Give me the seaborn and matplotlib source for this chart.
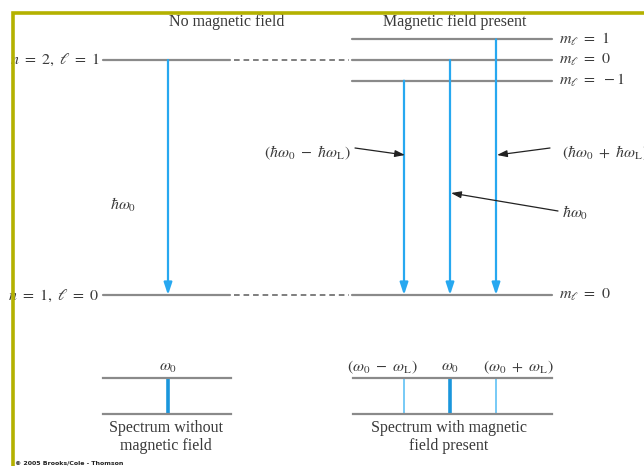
import numpy as np
import pandas as pd
import matplotlib
matplotlib.use("Agg")
import matplotlib.pyplot as plt
import seaborn as sns
from matplotlib.patches import Rectangle

# ---------------- data ----------------
panel_titles = ["No magnetic field", "Magnetic field present"]
lower_level_label = r"$n\ =\ 1,\ \ell\ =\ 0$"
upper_level_label = r"$n\ =\ 2,\ \ell\ =\ 1$"
E_lower = 0.0
E_upper = 1.0
zeeman_step = 0.088          # energy shift per unit m_l (relative)
upper_ml = [1, 0, -1]
lower_ml = [0]
ml_labels_upper = [r"$m_\ell\ =\ 1$", r"$m_\ell\ =\ 0$", r"$m_\ell\ =\ -1$"]
ml_label_lower = r"$m_\ell\ =\ 0$"
transition_ml = [-1, 0, 1]   # upper m_l of each transition (to m_l = 0)
transition_labels = [r"$(\hbar\omega_0\ -\ \hbar\omega_{\rm L})$",
                     r"$\hbar\omega_0$",
                     r"$(\hbar\omega_0\ +\ \hbar\omega_{\rm L})$"]
single_label = r"$\hbar\omega_0$"
spectrum_offsets = [-1, 0, 1]         # in units of omega_L
spectrum_strength = [1, 2, 1]
spectrum_labels = [r"$(\omega_0\ -\ \omega_{\rm L})$", r"$\omega_0$",
                   r"$(\omega_0\ +\ \omega_{\rm L})$"]
spectrum_captions = ["Spectrum without\nmagnetic field",
                     "Spectrum with magnetic\nfield present"]
credit = "© 2005 Brooks/Cole - Thomson"

# ---------------- style ----------------
sns.set_theme(style="white")
plt.rcParams["font.family"] = ["Liberation Serif", "DejaVu Serif"]
plt.rcParams["mathtext.fontset"] = "stix"

W, H = 644, 466
GRAY = "#8a8a8a"
BLUE = "#27a8f0"
BLUE_D = "#1a96dc"
BLUE_L = "#6cc6f6"
TXT = "#3a3a3a"

fig = plt.figure(figsize=(W / 100, H / 100), dpi=100)
fig.patch.set_facecolor("white")

# main axes: x in layout pixels, y in energy units
Y_G, S = 295.0, 235.0
ax = fig.add_axes([0, 0, 1, 1])
ax.set_xlim(0, W)
ax.set_ylim((Y_G - H) / S, Y_G / S)
ax.axis("off")

def ff(px, py):
    return px / W, 1 - py / H

XL0, XL1, XLA = 103, 230, 168     # left diagram
XR0, XR1, XRC, DX = 352, 552, 450, 46  # right diagram

# levels via seaborn
rows = []
seg = 0
for E in [E_upper, E_lower]:
    rows += [dict(x=XL0, E=E, seg=seg), dict(x=XL1, E=E, seg=seg)]
    seg += 1
for ml in upper_ml:
    E = E_upper + ml * zeeman_step
    rows += [dict(x=XR0, E=E, seg=seg), dict(x=XR1, E=E, seg=seg)]
    seg += 1
for ml in lower_ml:
    E = E_lower + ml * zeeman_step
    rows += [dict(x=XR0, E=E, seg=seg), dict(x=XR1, E=E, seg=seg)]
    seg += 1
levels = pd.DataFrame(rows)
sns.lineplot(data=levels, x="x", y="E", units="seg", estimator=None,
             color=GRAY, lw=1.6, sort=False, ax=ax, legend=False)
ax.set_xlabel(""); ax.set_ylabel("")
ax.axis("off")

# dashed connectors
for E in [E_upper, E_lower]:
    ax.plot([234, XR0 - 3], [E, E], color="#7e7e7e", lw=1.4, dashes=(2.9, 2.0))

arrow_kw = dict(arrowstyle="-|>,head_length=0.6,head_width=0.2",
                color=BLUE, lw=1.6, shrinkA=0, shrinkB=0)
# single transition
ax.annotate("", xy=(XLA, E_lower), xytext=(XLA, E_upper), arrowprops=arrow_kw)
# Zeeman transitions
for ml in transition_ml:
    x = XRC + DX * ml
    ax.annotate("", xy=(x, E_lower), xytext=(x, E_upper + ml * zeeman_step),
                arrowprops=arrow_kw)

# level labels
fs = 11.5
fig.text(*ff(100, 60), upper_level_label, ha="right", va="center", fontsize=fs, color=TXT)
fig.text(*ff(100, 296), lower_level_label, ha="right", va="center", fontsize=fs, color=TXT)
for ml, lab in zip(upper_ml, ml_labels_upper):
    E = E_upper + ml * zeeman_step
    ax.text(559, E, lab, ha="left", va="center", fontsize=fs, color=TXT)
ax.text(559, E_lower, ml_label_lower, ha="left", va="center", fontsize=fs, color=TXT)

# titles
fig.text(*ff(227, 22), panel_titles[0], ha="center", va="center", fontsize=fs, color=TXT)
fig.text(*ff(455, 22), panel_titles[1], ha="center", va="center", fontsize=fs, color=TXT)

# transition labels + pointers
fig.text(*ff(123, 205), single_label, ha="center", va="center", fontsize=fs, color=TXT)
ptr = dict(arrowstyle="-|>,head_length=0.5,head_width=0.17", color="#222222",
           lw=0.9, shrinkA=0, shrinkB=0)
fig.text(*ff(351, 153), transition_labels[0], ha="right", va="center", fontsize=fs, color=TXT)
ax.annotate("", xy=(XRC - DX + 1, (Y_G - 155) / S), xytext=(355, H - 148),
            textcoords="figure pixels", arrowprops=ptr)
fig.text(*ff(562, 153), transition_labels[2], ha="left", va="center", fontsize=fs, color=TXT)
ax.annotate("", xy=(XRC + DX + 1, (Y_G - 155) / S), xytext=(550, H - 148),
            textcoords="figure pixels", arrowprops=ptr)
fig.text(*ff(562, 213), transition_labels[1], ha="left", va="center", fontsize=fs, color=TXT)
ax.annotate("", xy=(XRC + 1, (Y_G - 193) / S), xytext=(558, H - 211),
            textcoords="figure pixels", arrowprops=ptr)

# spectra
SY0, SY1 = 378, 414
def spec_axes(x0, x1, xc):
    a = fig.add_axes([x0 / W, 1 - SY1 / H, (x1 - x0) / W, (SY1 - SY0) / H])
    a.set_xlim((x0 - xc) / DX, (x1 - xc) / DX)
    a.set_ylim(0, 1)
    a.patch.set_alpha(0)
    for s in ["left", "right"]:
        a.spines[s].set_visible(False)
    for s in ["top", "bottom"]:
        a.spines[s].set_color(GRAY)
        a.spines[s].set_linewidth(1.6)
    a.set_xticks([]); a.set_yticks([])
    return a

axL = spec_axes(XL0, XL1 + 1, XLA)
axL.vlines([0], 0, 1, color=BLUE_D, lw=2.6)
axR = spec_axes(XR0 + 1, XR1, XRC)
for off, st in zip(spectrum_offsets, spectrum_strength):
    axR.vlines([off], 0, 1, color=BLUE_D if st > 1 else BLUE_L,
               lw=2.6 if st > 1 else 1.3)

fig.text(*ff(168, 367), spectrum_labels[1], ha="center", va="center", fontsize=fs, color=TXT)
for px, lab in zip([382, 450, 518], spectrum_labels):
    fig.text(*ff(px, 367), lab, ha="center", va="center", fontsize=fs, color=TXT)

fig.text(*ff(166, 437), spectrum_captions[0], ha="center", va="center",
         fontsize=fs, color=TXT, linespacing=1.2)
fig.text(*ff(449, 437), spectrum_captions[1], ha="center", va="center",
         fontsize=fs, color=TXT, linespacing=1.2)

fig.text(*ff(15, 463), credit, ha="left", va="center", fontsize=4.5,
         color="#222222", family="DejaVu Sans", weight="bold")

# border
fig.add_artist(Rectangle((13 / W, -0.1), 2.0, 1 - 13 / H + 0.1,
                         transform=fig.transFigure, fill=False,
                         edgecolor="#b4b100", lw=2.6, zorder=10))

fig.savefig("out.png", dpi=100, facecolor="white")
